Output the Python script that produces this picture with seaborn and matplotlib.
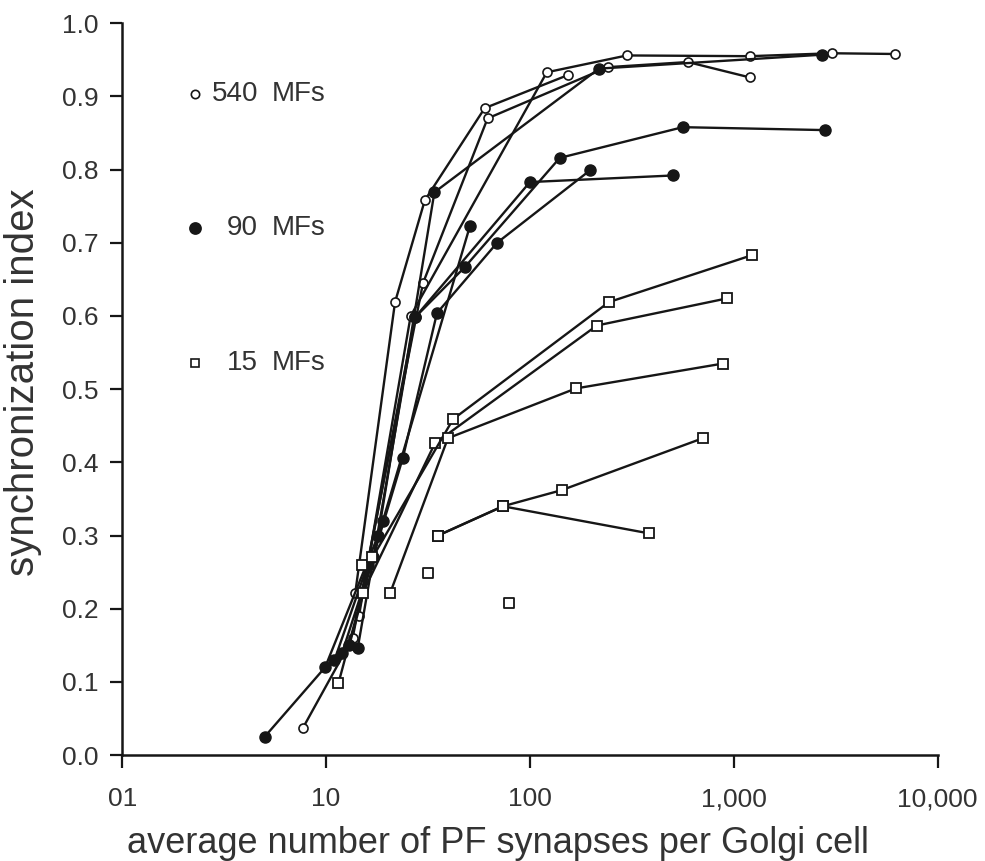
import numpy as np
import pandas as pd
import matplotlib
matplotlib.use('Agg')
import matplotlib.pyplot as plt
from matplotlib.ticker import NullLocator
import seaborn as sns

# 540 MFs (open circles) - one list per simulation run
mf540_x = [
    [7.7, 13.5, 29.9, 62, 241, 595, 1197],
    [13.9, 21.8, 30.5, 60, 153],
    [14.5, 26, 121, 299, 1197, 3020, 6150],
]
mf540_y = [
    [0.037, 0.16, 0.645, 0.87, 0.94, 0.947, 0.926],
    [0.221, 0.619, 0.758, 0.884, 0.929],
    [0.19, 0.60, 0.933, 0.956, 0.955, 0.959, 0.958],
]

# 90 MFs (filled circles)
mf90_x = [
    [5.0, 9.9, 18, 34, 218, 2700],
    [11, 16, 27.3, 48, 140, 562, 2794],
    [12, 17, 23.8, 35, 69, 197],
    [13, 19, 50.8],
    [14.3, 27.3, 100, 503],
]
mf90_y = [
    [0.025, 0.12, 0.30, 0.769, 0.938, 0.957],
    [0.13, 0.26, 0.598, 0.667, 0.816, 0.858, 0.854],
    [0.14, 0.27, 0.406, 0.604, 0.70, 0.799],
    [0.15, 0.32, 0.723],
    [0.146, 0.598, 0.783, 0.792],
]

# 15 MFs (open squares)
mf15_x = [
    [11.5, 15.1, 34.2, 213, 924],
    [15.0, 16.9, 42, 244, 1225],
    [20.6, 39.6, 168, 884],
    [35.4, 73.7, 143, 705],
    [35.4, 73.7, 383],
]
mf15_y = [
    [0.098, 0.221, 0.426, 0.587, 0.624],
    [0.26, 0.27, 0.459, 0.619, 0.683],
    [0.221, 0.433, 0.501, 0.535],
    [0.30, 0.340, 0.362, 0.433],
    [0.30, 0.34, 0.303],
]
# unconnected 15 MF points
mf15_single_x = [31.6, 78.9]
mf15_single_y = [0.249, 0.208]

x_ticks = [1, 10, 100, 1000, 10000]
x_tick_labels = ['01', '10', '100', '1,000', '10,000']
y_ticks = [0.0, 0.1, 0.2, 0.3, 0.4, 0.5, 0.6, 0.7, 0.8, 0.9, 1.0]


def to_frame(xs, ys, name):
    """Long-format table, one 'run' per connected line."""
    rows = []
    for i, (xr, yr) in enumerate(zip(xs, ys)):
        for a, b in zip(xr, yr):
            rows.append({'syn': a, 'sync': b, 'run': f'{name}-{i}'})
    return pd.DataFrame(rows)


sns.set_theme(style='ticks')
plt.rcParams['font.family'] = ['Liberation Sans', 'DejaVu Sans']

ink = '#161616'
txt = '#333333'

fig = plt.figure(figsize=(9.85, 8.61), dpi=100)
ax = fig.add_axes([0.124, 0.123, 0.828, 0.850])

line_kw = dict(color=ink, linewidth=1.7, estimator=None, sort=False, legend=False)

sns.lineplot(data=to_frame(mf540_x, mf540_y, '540'), x='syn', y='sync', units='run',
             marker='o', markersize=6.5, markerfacecolor='white',
             markeredgecolor=ink, markeredgewidth=1.2, ax=ax, **line_kw)
sns.lineplot(data=to_frame(mf90_x, mf90_y, '90'), x='syn', y='sync', units='run',
             marker='o', markersize=8, markerfacecolor=ink,
             markeredgecolor=ink, markeredgewidth=1.0, ax=ax, **line_kw)
sns.lineplot(data=to_frame(mf15_x, mf15_y, '15'), x='syn', y='sync', units='run',
             marker='s', markersize=7.5, markerfacecolor='white',
             markeredgecolor=ink, markeredgewidth=1.3, ax=ax, **line_kw)
sns.scatterplot(x=mf15_single_x, y=mf15_single_y, marker='s', s=56,
                facecolor='white', edgecolor=ink, linewidth=1.3, ax=ax, legend=False)

ax.set_xscale('log')
ax.set_xlim(1, 10000)
ax.set_ylim(0, 1.0)
ax.set_xticks(x_ticks)
ax.set_xticklabels(x_tick_labels)
ax.xaxis.set_minor_locator(NullLocator())
ax.set_yticks(y_ticks)
ax.set_yticklabels([f'{v:.1f}' for v in y_ticks])

ax.tick_params(axis='both', direction='out', length=9, width=1.6, color=ink,
               labelcolor=txt, labelsize=19)
ax.tick_params(axis='x', pad=14)
ax.tick_params(axis='y', pad=8)
sns.despine(ax=ax)
for side in ['left', 'bottom']:
    ax.spines[side].set_linewidth(1.8)
    ax.spines[side].set_color(ink)

ax.set_xlabel('average number of PF synapses per Golgi cell', fontsize=26, color=txt)
ax.set_ylabel('synchronization index', fontsize=29, color=txt)
ax.xaxis.set_label_coords(0.461, -0.097)
ax.yaxis.set_label_coords(-0.098, 0.51)

# hand-placed key, as in the original figure
key = [
    ('540', 0.904, dict(marker='o', markersize=6, markerfacecolor='white')),
    ('90', 0.720, dict(marker='o', markersize=8, markerfacecolor=ink)),
    ('15', 0.5355, dict(marker='s', markersize=6, markerfacecolor='white')),
]
for num, ky, mk in key:
    ax.plot([0.0895], [ky], transform=ax.transAxes, linestyle='none',
            markeredgecolor=ink, markeredgewidth=1.2, **mk)
    ax.text(0.1667, ky, num, transform=ax.transAxes, ha='right', va='center',
            fontsize=20, color=txt)
    ax.text(0.184, ky, 'MFs', transform=ax.transAxes, ha='left', va='center',
            fontsize=20, color=txt)

fig.savefig('out.png', dpi=100)
